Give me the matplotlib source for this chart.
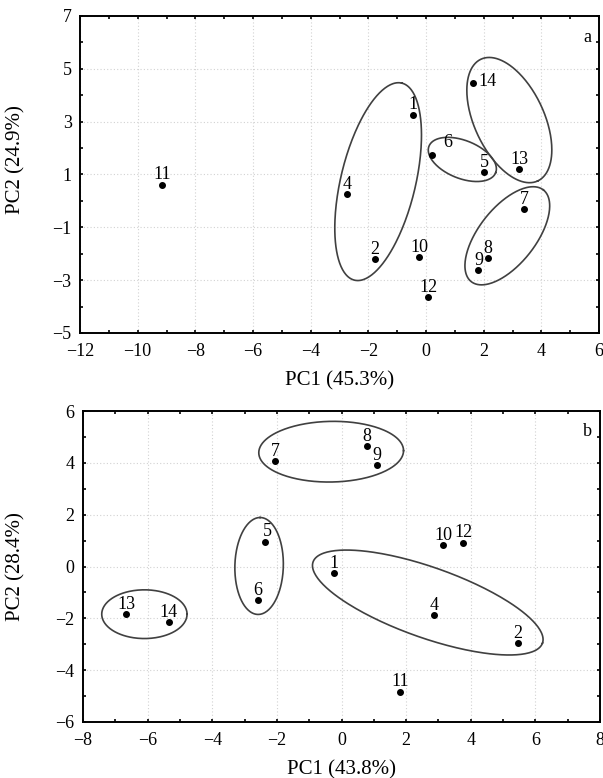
import numpy as np
import matplotlib
matplotlib.use("Agg")
import matplotlib.pyplot as plt
from matplotlib.ticker import MultipleLocator

plt.rcParams['font.family'] = ['Liberation Serif', 'DejaVu Serif']

# --- panel a ---
labels_a = ['1', '2', '4', '5', '6', '7', '8', '9', '10', '11', '12', '13', '14']
pc1_a = [-0.44, -1.77, -2.74, 2.02, 0.20, 3.41, 2.16, 1.82, -0.24, -9.14, 0.07, 3.23, 1.63]
pc2_a = [3.26, -2.21, 0.25, 1.09, 1.74, -0.32, -2.16, -2.63, -2.14, 0.62, -3.65, 1.21, 4.46]

# --- panel b ---
labels_b = ['1', '2', '4', '5', '6', '7', '8', '9', '10', '11', '12', '13', '14']
pc1_b = [-0.23, 5.47, 2.87, -2.38, -2.59, -2.06, 0.79, 1.11, 3.14, 1.82, 3.76, -6.66, -5.35]
pc2_b = [-0.25, -2.97, -1.89, 0.96, -1.29, 4.07, 4.64, 3.90, 0.83, -4.83, 0.92, -1.85, -2.15]

# group outlines: centre, half-axis vectors (data units)
groups_a = [
    ((-1.66, 0.73), (0.82, 3.73), (1.26, -0.33)),
    ((1.26, 1.57), (1.156, -0.504), (-0.243, -0.667)),
    ((2.89, 3.06), (0.983, -2.305), (-1.098, -0.554)),
    ((2.82, -1.32), (1.249, 1.738), (0.775, -0.655)),
]
groups_b = [
    ((-0.32, 4.43), (2.24, 0.04), (0.0, 1.17)),
    ((-2.55, 0.02), (0.03, 1.87), (0.75, 0.0)),
    ((-6.10, -1.84), (1.32, 0.0), (0.0, 0.94)),
    ((2.67, -1.39), (3.55, -1.566), (-0.361, -1.283)),
]

# label offsets in points (default: centred above the dot)
offs_a = {'6': (8, 3, 'left'), '14': (4, -5, 'left')}
offs_b = {'5': (2, 1, 'center')}


def draw_panel(ax, labels, xs, ys, groups, offs, xlim, ylim, xmaj, yticks,
               xlabel, ylabel, tag):
    ax.set_xlim(*xlim)
    ax.set_ylim(*ylim)
    ax.xaxis.set_major_locator(MultipleLocator(xmaj))
    ax.xaxis.set_minor_locator(MultipleLocator(1))
    ax.set_yticks(yticks)
    ax.yaxis.set_minor_locator(MultipleLocator(1))
    ax.grid(True, which='major', color='#d2d2d2', linestyle=(0, (1, 2)), linewidth=0.8)
    ax.set_axisbelow(True)
    ax.tick_params(which='both', direction='in', top=True, right=True,
                   labelsize=13, width=1.2, length=2.5)
    ax.tick_params(axis='x', pad=7)
    ax.tick_params(axis='y', pad=6)
    for s in ax.spines.values():
        s.set_linewidth(1.4)

    t = np.linspace(0, 2 * np.pi, 300)
    for (cx, cy), (ux, uy), (vx, vy) in groups:
        ax.plot(cx + ux * np.cos(t) + vx * np.sin(t),
                cy + uy * np.cos(t) + vy * np.sin(t),
                color='#404040', lw=1.2)

    ax.plot(xs, ys, 'o', color='black', markersize=4, zorder=5)
    for lab, x, y in zip(labels, xs, ys):
        dx, dy, ha = offs.get(lab, (0, 1, 'center'))
        ax.annotate(lab, (x, y), xytext=(dx, dy), textcoords='offset points',
                    ha=ha, va='bottom', fontsize=13)

    ax.text(0.985, 0.96, tag, transform=ax.transAxes, ha='right', va='top',
            fontsize=13)
    ax.set_xlabel(xlabel, fontsize=15, labelpad=8)
    ax.set_ylabel(ylabel, fontsize=15)


fig = plt.figure(figsize=(6.03, 7.78), dpi=100)
ax1 = fig.add_axes([80 / 603, 1 - 333 / 778, 519 / 603, 317 / 778])
ax2 = fig.add_axes([83 / 603, 1 - 722 / 778, 517 / 603, 311 / 778])

draw_panel(ax1, labels_a, pc1_a, pc2_a, groups_a, offs_a, (-12, 6), (-5, 7), 2,
           [-5, -3, -1, 1, 3, 5, 7], 'PC1 (45.3%)', 'PC2 (24.9%)', 'a')
ax1.yaxis.set_label_coords(-0.106, 0.547)

draw_panel(ax2, labels_b, pc1_b, pc2_b, groups_b, offs_b, (-8, 8), (-6, 6), 2,
           [-6, -4, -2, 0, 2, 4, 6], 'PC1 (43.8%)', 'PC2 (28.4%)', 'b')
ax2.yaxis.set_label_coords(-0.112, 0.5)

fig.savefig('out.png', dpi=100)
